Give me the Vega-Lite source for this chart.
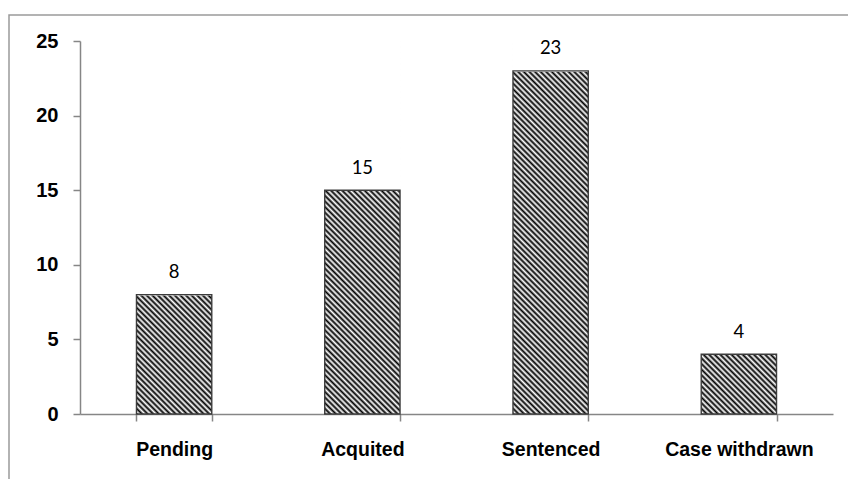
{
  "$schema": "https://vega.github.io/schema/vega-lite/v6.json",
  "autosize": {"type": "none"},
  "padding": {"left": 9, "top": 15, "right": 0, "bottom": 0},
  "width": 849,
  "height": 474,
  "background": "white",
  "data": {"values": [
    {"category": "Pending", "value": 8},
    {"category": "Acquited", "value": 15},
    {"category": "Sentenced", "value": 23},
    {"category": "Case withdrawn", "value": 4}
  ]},
  "encoding": {
    "x": {"field": "category", "type": "nominal", "sort": null, "title": null,
      "scale": {"range": [71, 824], "paddingInner": 0.6, "paddingOuter": 0.3},
      "axis": {"labelAngle": 0}}
  },
  "layer": [
    {
      "mark": {"type": "bar", "strokeWidth": 0, "fill": {"gradient": "linear", "x1": 0, "y1": 1, "x2": 0.2331, "y2": -0.1548, "stops": [
        {"offset":0,"color":"#000"},{"offset":0.00625,"color":"#fff"},{"offset":0.0125,"color":"#000"},{"offset":0.01875,"color":"#fff"},{"offset":0.025,"color":"#000"},{"offset":0.03125,"color":"#fff"},{"offset":0.0375,"color":"#000"},{"offset":0.04375,"color":"#fff"},{"offset":0.05,"color":"#000"},{"offset":0.05625,"color":"#fff"},{"offset":0.0625,"color":"#000"},{"offset":0.06875,"color":"#fff"},{"offset":0.075,"color":"#000"},{"offset":0.08125,"color":"#fff"},{"offset":0.0875,"color":"#000"},{"offset":0.09375,"color":"#fff"},
        {"offset":0.1,"color":"#000"},{"offset":0.10625,"color":"#fff"},{"offset":0.1125,"color":"#000"},{"offset":0.11875,"color":"#fff"},{"offset":0.125,"color":"#000"},{"offset":0.13125,"color":"#fff"},{"offset":0.1375,"color":"#000"},{"offset":0.14375,"color":"#fff"},{"offset":0.15,"color":"#000"},{"offset":0.15625,"color":"#fff"},{"offset":0.1625,"color":"#000"},{"offset":0.16875,"color":"#fff"},{"offset":0.175,"color":"#000"},{"offset":0.18125,"color":"#fff"},{"offset":0.1875,"color":"#000"},{"offset":0.19375,"color":"#fff"},
        {"offset":0.2,"color":"#000"},{"offset":0.20625,"color":"#fff"},{"offset":0.2125,"color":"#000"},{"offset":0.21875,"color":"#fff"},{"offset":0.225,"color":"#000"},{"offset":0.23125,"color":"#fff"},{"offset":0.2375,"color":"#000"},{"offset":0.24375,"color":"#fff"},{"offset":0.25,"color":"#000"},{"offset":0.25625,"color":"#fff"},{"offset":0.2625,"color":"#000"},{"offset":0.26875,"color":"#fff"},{"offset":0.275,"color":"#000"},{"offset":0.28125,"color":"#fff"},{"offset":0.2875,"color":"#000"},{"offset":0.29375,"color":"#fff"},
        {"offset":0.3,"color":"#000"},{"offset":0.30625,"color":"#fff"},{"offset":0.3125,"color":"#000"},{"offset":0.31875,"color":"#fff"},{"offset":0.325,"color":"#000"},{"offset":0.33125,"color":"#fff"},{"offset":0.3375,"color":"#000"},{"offset":0.34375,"color":"#fff"},{"offset":0.35,"color":"#000"},{"offset":0.35625,"color":"#fff"},{"offset":0.3625,"color":"#000"},{"offset":0.36875,"color":"#fff"},{"offset":0.375,"color":"#000"},{"offset":0.38125,"color":"#fff"},{"offset":0.3875,"color":"#000"},{"offset":0.39375,"color":"#fff"},
        {"offset":0.4,"color":"#000"},{"offset":0.40625,"color":"#fff"},{"offset":0.4125,"color":"#000"},{"offset":0.41875,"color":"#fff"},{"offset":0.425,"color":"#000"},{"offset":0.43125,"color":"#fff"},{"offset":0.4375,"color":"#000"},{"offset":0.44375,"color":"#fff"},{"offset":0.45,"color":"#000"},{"offset":0.45625,"color":"#fff"},{"offset":0.4625,"color":"#000"},{"offset":0.46875,"color":"#fff"},{"offset":0.475,"color":"#000"},{"offset":0.48125,"color":"#fff"},{"offset":0.4875,"color":"#000"},{"offset":0.49375,"color":"#fff"},
        {"offset":0.5,"color":"#000"},{"offset":0.50625,"color":"#fff"},{"offset":0.5125,"color":"#000"},{"offset":0.51875,"color":"#fff"},{"offset":0.525,"color":"#000"},{"offset":0.53125,"color":"#fff"},{"offset":0.5375,"color":"#000"},{"offset":0.54375,"color":"#fff"},{"offset":0.55,"color":"#000"},{"offset":0.55625,"color":"#fff"},{"offset":0.5625,"color":"#000"},{"offset":0.56875,"color":"#fff"},{"offset":0.575,"color":"#000"},{"offset":0.58125,"color":"#fff"},{"offset":0.5875,"color":"#000"},{"offset":0.59375,"color":"#fff"},
        {"offset":0.6,"color":"#000"},{"offset":0.60625,"color":"#fff"},{"offset":0.6125,"color":"#000"},{"offset":0.61875,"color":"#fff"},{"offset":0.625,"color":"#000"},{"offset":0.63125,"color":"#fff"},{"offset":0.6375,"color":"#000"},{"offset":0.64375,"color":"#fff"},{"offset":0.65,"color":"#000"},{"offset":0.65625,"color":"#fff"},{"offset":0.6625,"color":"#000"},{"offset":0.66875,"color":"#fff"},{"offset":0.675,"color":"#000"},{"offset":0.68125,"color":"#fff"},{"offset":0.6875,"color":"#000"},{"offset":0.69375,"color":"#fff"},
        {"offset":0.7,"color":"#000"},{"offset":0.70625,"color":"#fff"},{"offset":0.7125,"color":"#000"},{"offset":0.71875,"color":"#fff"},{"offset":0.725,"color":"#000"},{"offset":0.73125,"color":"#fff"},{"offset":0.7375,"color":"#000"},{"offset":0.74375,"color":"#fff"},{"offset":0.75,"color":"#000"},{"offset":0.75625,"color":"#fff"},{"offset":0.7625,"color":"#000"},{"offset":0.76875,"color":"#fff"},{"offset":0.775,"color":"#000"},{"offset":0.78125,"color":"#fff"},{"offset":0.7875,"color":"#000"},{"offset":0.79375,"color":"#fff"},
        {"offset":0.8,"color":"#000"},{"offset":0.80625,"color":"#fff"},{"offset":0.8125,"color":"#000"},{"offset":0.81875,"color":"#fff"},{"offset":0.825,"color":"#000"},{"offset":0.83125,"color":"#fff"},{"offset":0.8375,"color":"#000"},{"offset":0.84375,"color":"#fff"},{"offset":0.85,"color":"#000"},{"offset":0.85625,"color":"#fff"},{"offset":0.8625,"color":"#000"},{"offset":0.86875,"color":"#fff"},{"offset":0.875,"color":"#000"},{"offset":0.88125,"color":"#fff"},{"offset":0.8875,"color":"#000"},{"offset":0.89375,"color":"#fff"},
        {"offset":0.9,"color":"#000"},{"offset":0.90625,"color":"#fff"},{"offset":0.9125,"color":"#000"},{"offset":0.91875,"color":"#fff"},{"offset":0.925,"color":"#000"},{"offset":0.93125,"color":"#fff"},{"offset":0.9375,"color":"#000"},{"offset":0.94375,"color":"#fff"},{"offset":0.95,"color":"#000"},{"offset":0.95625,"color":"#fff"},{"offset":0.9625,"color":"#000"},{"offset":0.96875,"color":"#fff"},{"offset":0.975,"color":"#000"},{"offset":0.98125,"color":"#fff"},{"offset":0.9875,"color":"#000"},{"offset":0.99375,"color":"#fff"},
        {"offset":1,"color":"#000"}
      ]}},
      "encoding": {
        "y": {"datum": 25, "type": "quantitative", "title": null,
          "scale": {"domain": [0, 25], "range": [399, 26], "nice": false, "zero": true},
          "axis": {"values": [0, 5, 10, 15, 20, 25]}},
        "y2": {"datum": 0}
      }
    },
    {
      "mark": {"type": "bar", "fill": "white", "stroke": "white", "strokeWidth": 1.6},
      "encoding": {
        "y": {"field": "value", "type": "quantitative", "title": null},
        "y2": {"datum": 25}
      }
    },
    {
      "mark": {"type": "bar", "filled": false, "stroke": "#3c3c3c", "strokeWidth": 1.4},
      "encoding": {
        "y": {"field": "value", "type": "quantitative", "title": null}
      }
    },
    {
      "mark": {"type": "text", "baseline": "alphabetic", "dy": -16.5, "font": "Lato", "fontSize": 18.5, "color": "black"},
      "encoding": {
        "y": {"field": "value", "type": "quantitative", "title": null},
        "text": {"field": "value", "type": "quantitative"}
      }
    }
  ],
  "config": {
    "view": {"stroke": "#9a9a9a", "strokeWidth": 1.5},
    "axis": {"grid": false},
    "axisY": {
      "offset": -71, "domainColor": "#868686", "domainWidth": 1.5, "tickColor": "#868686", "tickWidth": 1.5, "tickSize": 7,
      "labelFont": "Liberation Sans", "labelFontSize": 20, "labelFontWeight": "bold", "labelColor": "black", "labelPadding": 15
    },
    "axisX": {
      "offset": -75, "domainColor": "#868686", "domainWidth": 1.5, "tickColor": "#868686", "tickWidth": 1.5, "tickSize": 7, "tickBand": "extent",
      "labelFont": "Liberation Sans", "labelFontSize": 19.5, "labelFontWeight": "bold", "labelColor": "black", "labelPadding": 19
    }
  }
}
